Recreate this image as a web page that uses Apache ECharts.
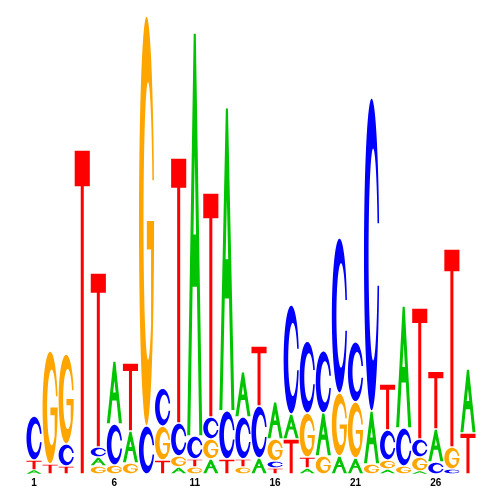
<!DOCTYPE html>
<html><head><meta charset="utf-8">
<script src="https://cdn.jsdelivr.net/npm/echarts@6/dist/echarts.min.js"></script>
<style>html,body{margin:0;padding:0;background:#fff}#c{width:500px;height:500px}</style>
</head><body><div id="c"></div>
<script>
// ---- data (information content in bits) ----
const positions = ['1','2','3','4','5','6','7','8','9','10','11','12','13','14','15','16','17','18','19','20','21','22','23','24','25','26','27','28'];
const heightA = [0.017,0,0,0,0.039,0.275,0.140,0,0,0.031,1.760,0.066,1.323,0.197,0.070,0.162,0.109,0.026,0.188,0.079,0.070,0.231,0.022,0.533,0.013,0.144,0,0.279];
const heightC = [0.192,0,0.096,0,0.044,0.179,0,0.210,0.166,0.144,0.100,0.096,0.210,0.183,0.227,0.031,0.476,0.314,0.271,0.677,0.262,1.367,0.131,0.166,0.079,0.052,0.022,0];
const heightG = [0,0.493,0.393,0,0.035,0.039,0.048,1.790,0.148,0.048,0.031,0.087,0,0.031,0,0.096,0,0.192,0.079,0.275,0.245,0.044,0.039,0.035,0.061,0,0.096,0];
const heightT = [0.044,0.044,0.035,1.415,0.760,0,0.297,0,0.061,1.157,0.035,0.978,0.066,0.035,0.262,0.026,0.153,0.048,0,0,0,0,0.201,0,0.572,0.253,0.865,0.179];
// stacking order of letters, bottom to top, per position
const stackOrder = ['ATC','TG','TCG','T','GACT','GCA','GAT','CG','TGC','AGCT','GTCA','AGCT','TCA','GTCA','ACT','TCGA','TAC','ATGC','GAC','AGC','AGC','GAC','AGCT','GCA','AGCT','CAT','CGT','TA'];
const tickLabels = ['1','6','11','16','21','26'];

const heights = {A: heightA, C: heightC, G: heightG, T: heightT};
const COLORS = {A:'#00C400', C:'#0000FF', G:'#FFA500', T:'#FF0000'};

// ---- glyph outlines in a 100x100 box ----
function arc(cx, cy, rx, ry, a0, a1, n) {
  const pts = [];
  for (let k = 0; k <= n; k++) {
    const t = (a0 + (a1 - a0) * k / n) * Math.PI / 180;
    pts.push([cx + rx * Math.cos(t), cy + ry * Math.sin(t)]);
  }
  return pts;
}
function poly(pts) {
  return 'M' + pts.map(p => p[0].toFixed(2) + ',' + p[1].toFixed(2)).join('L') + 'Z';
}
const oA = Math.asin(10/50) * 180 / Math.PI;   // outer angle at y=40/60
const iA = Math.asin(10/34) * 180 / Math.PI;   // inner angle at y=40/60
const glyphC = poly([].concat(
  arc(50, 50, 50, 50, -oA, -360 + oA, 80),
  arc(60, 50, 30, 34, iA, 360 - iA, 80)
));
const gStem = Math.acos(20/30) * 180 / Math.PI;
const glyphG = poly([].concat(
  arc(50, 50, 50, 50, -oA, -360, 80),
  [[52, 50], [52, 57], [80, 57]],
  arc(60, 50, 30, 34, gStem, 360 - iA, 80)
));
const glyphA = 'M0,100L43,0L57,0L100,100L80,100L64.09,63L35.91,63L20,100Z M58.5,50L50,30.2L41.5,50Z';
const glyphT = 'M0,0L100,0L100,11L60,11L60,100L40,100L40,11L0,11Z';
const GLYPHS = {A: glyphA, C: glyphC, G: glyphG, T: glyphT};

const chart = echarts.init(document.getElementById('c'), null, {renderer: 'canvas'});
chart.setOption({
  animation: false,
  backgroundColor: '#ffffff',
  grid: {left: 26, right: 24, top: 16, bottom: 26},
  xAxis: {
    type: 'category', data: positions, boundaryGap: true,
    axisLine: {show: false}, axisTick: {show: false}, splitLine: {show: false},
    axisLabel: {
      interval: 0, margin: 4, fontSize: 10, fontWeight: 'bold', color: '#000',
      fontFamily: 'Liberation Sans, Arial, sans-serif',
      formatter: v => tickLabels.includes(v) ? v : ''
    }
  },
  yAxis: {type: 'value', min: 0, max: 2, show: false},
  series: [{
    type: 'custom',
    data: positions.map((p, i) => [i, heightA[i] + heightC[i] + heightG[i] + heightT[i]]),
    renderItem: function (params, api) {
      const i = params.dataIndex;
      const band = api.size([1, 0])[0];
      const w = band * 0.94;
      const children = [];
      let cum = 0;
      for (const L of stackOrder[i]) {
        const h = heights[L][i];
        if (!h) continue;
        const p0 = api.coord([i, cum]);
        const p1 = api.coord([i, cum + h]);
        cum += h;
        const full = p0[1] - p1[1];
        const inset = full > 4 ? 0.75 : 0.2;
        children.push({
          type: 'path',
          shape: {pathData: GLYPHS[L], layout: 'cover', x: p0[0] - w / 2, y: p1[1] + inset, width: w, height: full - 2 * inset},
          style: {fill: COLORS[L]}
        });
      }
      return {type: 'group', children: children};
    }
  }]
});
</script>
</body></html>
